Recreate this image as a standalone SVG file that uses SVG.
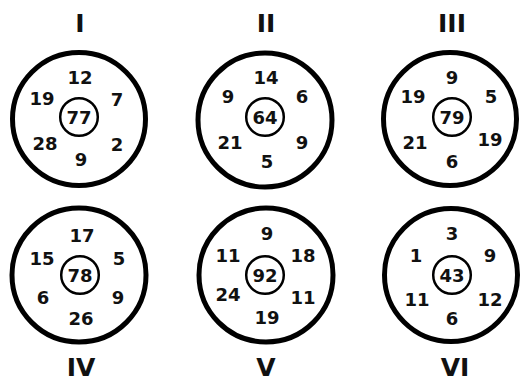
<svg xmlns="http://www.w3.org/2000/svg" width="520" height="382" viewBox="0 0 520 382">
  <style>
    .outer { fill: #ffffff; stroke: #000000; stroke-width: 5; }
    .inner { fill: none; stroke: #000000; stroke-width: 2.5; }
    .num { font-family: "DejaVu Sans", "Liberation Sans", sans-serif; font-weight: bold; font-size: 18px; fill: #111111; text-anchor: middle; }
    .label { font-family: "DejaVu Sans", "Liberation Sans", sans-serif; font-weight: bold; font-size: 25px; fill: #111111; text-anchor: middle; }
  </style>
  <rect width="520" height="382" fill="#ffffff"/>

  <!-- Ring I -->
  <g id="ring-I">
    <circle class="outer" cx="79" cy="119" r="66.5"/>
    <circle class="inner" cx="79" cy="117" r="18.8"/>
    <text class="label" x="80" y="32">I</text>
    <text class="num" x="80" y="83.5">12</text>
    <text class="num" x="42" y="105">19</text>
    <text class="num" x="117" y="106">7</text>
    <text class="num" x="79" y="123.5">77</text>
    <text class="num" x="45" y="149.5">28</text>
    <text class="num" x="117" y="150.5">2</text>
    <text class="num" x="81" y="165.5">9</text>
  </g>

  <!-- Ring II -->
  <g id="ring-II">
    <circle class="outer" cx="265" cy="120" r="67"/>
    <circle class="inner" cx="265" cy="117" r="18.8"/>
    <text class="label" x="266" y="32">II</text>
    <text class="num" x="266" y="83.5">14</text>
    <text class="num" x="228" y="103">9</text>
    <text class="num" x="302" y="103">6</text>
    <text class="num" x="265" y="123.5">64</text>
    <text class="num" x="230" y="148.5">21</text>
    <text class="num" x="302" y="148.5">9</text>
    <text class="num" x="267" y="167.5">5</text>
  </g>

  <!-- Ring III -->
  <g id="ring-III">
    <circle class="outer" cx="450" cy="119" r="66.5"/>
    <circle class="inner" cx="452" cy="117" r="18.8"/>
    <text class="label" x="452" y="32">III</text>
    <text class="num" x="452" y="83.5">9</text>
    <text class="num" x="413" y="103">19</text>
    <text class="num" x="491" y="103">5</text>
    <text class="num" x="452" y="123.5">79</text>
    <text class="num" x="415" y="148.5">21</text>
    <text class="num" x="490" y="145.5">19</text>
    <text class="num" x="452" y="167.5">6</text>
  </g>

  <!-- Ring IV -->
  <g id="ring-IV">
    <circle class="outer" cx="79" cy="275" r="67"/>
    <circle class="inner" cx="80" cy="275" r="18.8"/>
    <text class="label" x="81" y="376">IV</text>
    <text class="num" x="82" y="241.5">17</text>
    <text class="num" x="42" y="264.5">15</text>
    <text class="num" x="119" y="264.5">5</text>
    <text class="num" x="80" y="281.5">78</text>
    <text class="num" x="43" y="303.5">6</text>
    <text class="num" x="118" y="303.5">9</text>
    <text class="num" x="81" y="324.5">26</text>
  </g>

  <!-- Ring V -->
  <g id="ring-V">
    <circle class="outer" cx="266" cy="275" r="67"/>
    <circle class="inner" cx="265" cy="275" r="18.8"/>
    <text class="label" x="266" y="376">V</text>
    <text class="num" x="267" y="239.5">9</text>
    <text class="num" x="228" y="261.5">11</text>
    <text class="num" x="303" y="261.5">18</text>
    <text class="num" x="265" y="281.5">92</text>
    <text class="num" x="228" y="300.5">24</text>
    <text class="num" x="303" y="303.5">11</text>
    <text class="num" x="267" y="323.5">19</text>
  </g>

  <!-- Ring VI -->
  <g id="ring-VI">
    <circle class="outer" cx="451" cy="275" r="66.5"/>
    <circle class="inner" cx="452" cy="275" r="18.8"/>
    <text class="label" x="455" y="376">VI</text>
    <text class="num" x="452" y="239.5">3</text>
    <text class="num" x="416" y="261.5">1</text>
    <text class="num" x="490" y="261.5">9</text>
    <text class="num" x="452" y="281.5">43</text>
    <text class="num" x="417" y="305.5">11</text>
    <text class="num" x="490" y="305.5">12</text>
    <text class="num" x="452" y="324.5">6</text>
  </g>
</svg>
